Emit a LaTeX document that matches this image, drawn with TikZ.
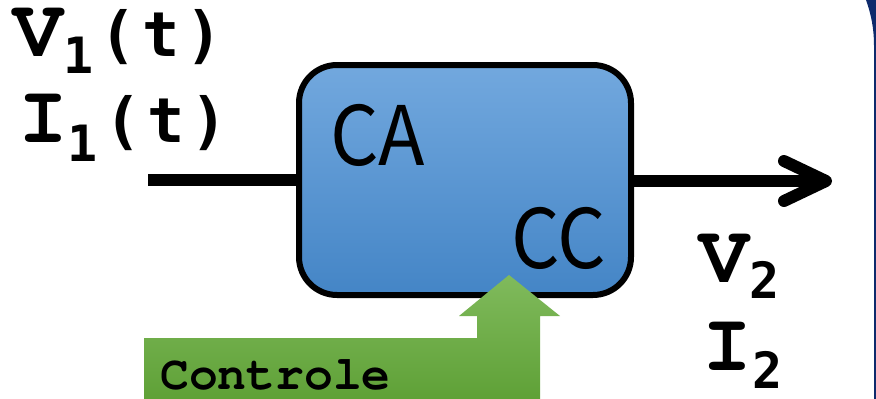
\documentclass[tikz,border=0pt]{standalone}
\usepackage{fontspec}
\usetikzlibrary{arrows.meta}
\newfontfamily\cour{TeX Gyre Cursor}[BoldFont=* Bold]
\newfontfamily\dvmono{DejaVu Sans Mono}
\newfontfamily\blocklabel{Noto Sans CJK JP}
\definecolor{navyframe}{HTML}{0E2A6C}
\definecolor{blocktop}{HTML}{72A8DE}
\definecolor{blockbot}{HTML}{4485C6}
\definecolor{greentop}{HTML}{80BA5C}
\definecolor{greenbot}{HTML}{5FA137}
\newcommand\paren[1]{\dvmono\bfseries\fontsize{62}{62}\selectfont (\kern6pt #1\kern6pt)}
\newcommand\bigmono{\cour\bfseries\fontsize{83}{83}\selectfont}
\tikzset{
  x=1pt, y=-1pt,
  wire/.style={line width=12pt},
  block/.style={draw, line width=6pt, rounded corners=38pt,
    minimum width=332pt, minimum height=230pt, inner sep=0pt,
    top color=blocktop, bottom color=blockbot},
  txt/.style={inner sep=0pt, anchor=base west},
  big/.style={txt, font=\blocklabel\fontsize{82}{82}\selectfont, xscale=0.93},
}
\begin{document}
\begin{tikzpicture}
\useasboundingbox (0,0) rectangle (876,399);
% slide frame on the right edge
\fill[navyframe] (866,0) .. controls (871,14) and (874,28) .. (874,46)
  -- (874,399) -- (876,399) -- (876,0) -- cycle;

% converter block
\node[block] (conv) at (465,180) {};
\node[big] (ca) at (330,165) {CA};
\node[big] (cc) at (511,268) {CC};

% input and output wires
\coordinate (inp) at (148,180);
\coordinate (outp) at (832,181);
\draw[wire] (inp) -- (conv.west);
\draw[wire, -{Straight Barb[length=42pt, width=40pt, round]}] (conv.east |- outp) -- (outp);

% control arrow
\shade[top color=greentop, bottom color=greenbot]
  (144,399) -- (144,338) -- (477,338) -- (477,316) -- (459,316)
  -- (509,275) -- (560,316) -- (540,316) -- (540,399) -- cycle;
\node[txt, font=\cour\bfseries\fontsize{48}{48}\selectfont] (ctrl) at (160,389) {Controle};

% input quantities
\node[txt] (v1) at (13,56) {\bigmono V\raisebox{-17pt}{\dvmono\fontsize{50}{50}\selectfont 1}\kern 6pt\paren{t}};
\node[txt] (i1) at (18,142) {\bigmono I\raisebox{-19pt}{\dvmono\fontsize{50}{50}\selectfont 1}\kern 6pt\paren{t}};

% output quantities
\node[txt] (v2) at (699,282) {\bigmono V\raisebox{-16pt}{\dvmono\bfseries\fontsize{50}{50}\selectfont 2}};
\node[txt] (i2) at (702,370) {\bigmono I\raisebox{-18pt}{\dvmono\bfseries\fontsize{50}{50}\selectfont 2}};
\end{tikzpicture}
\end{document}
